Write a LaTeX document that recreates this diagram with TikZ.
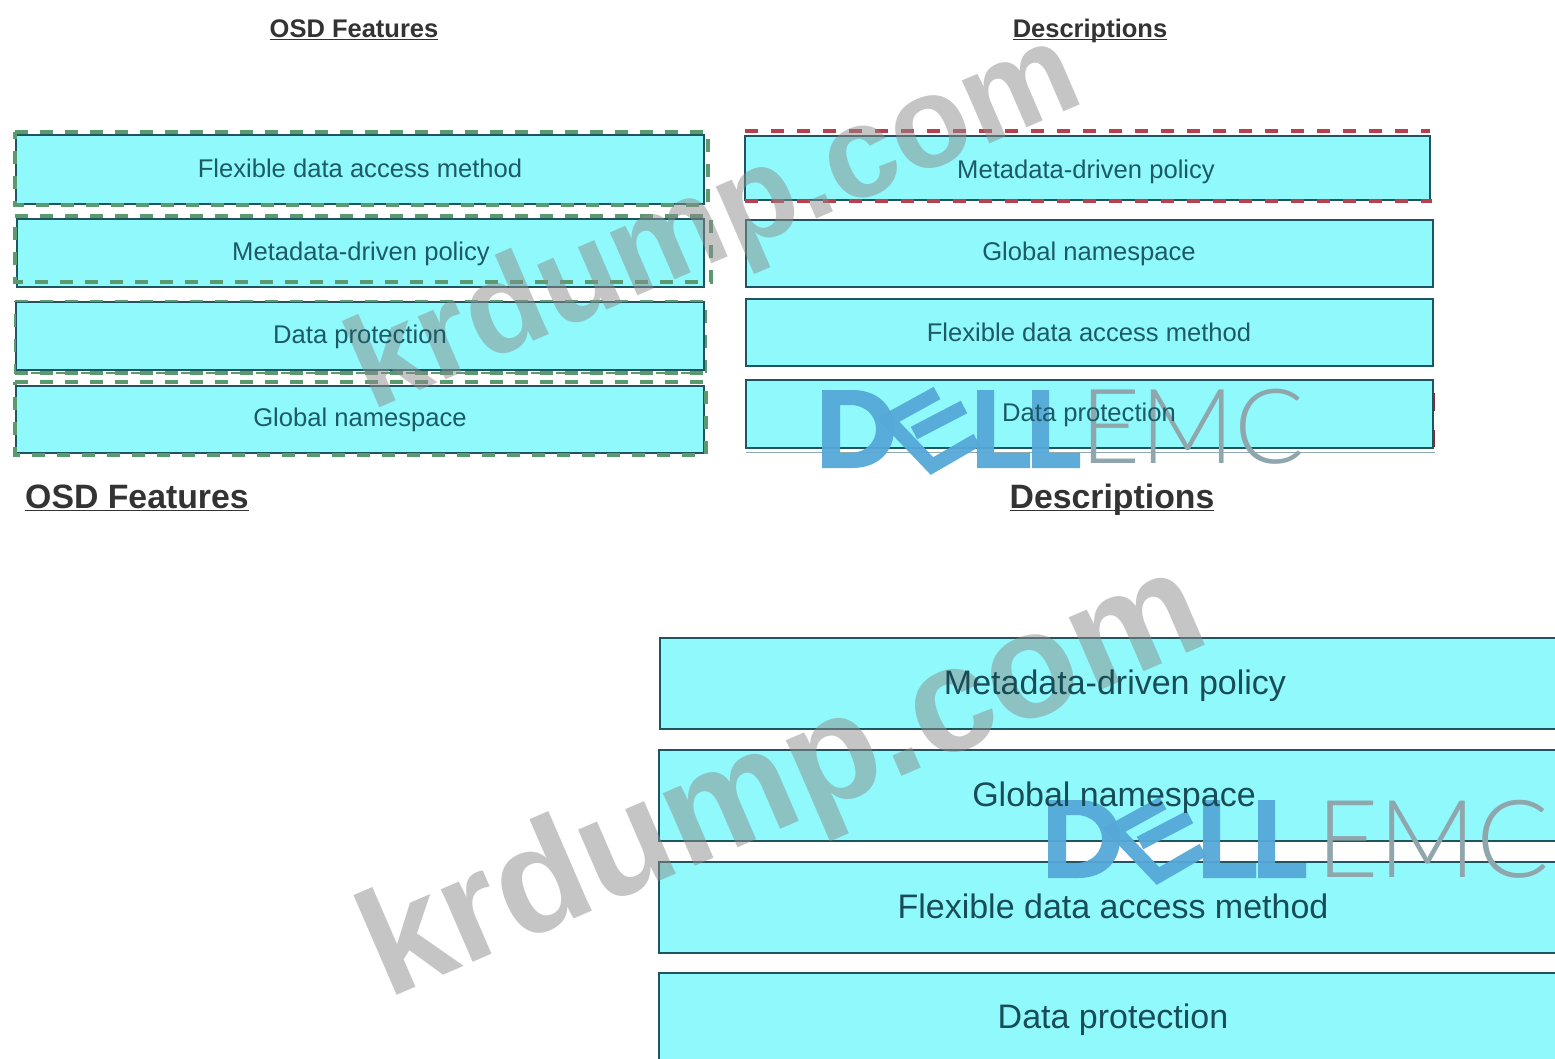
\documentclass[tikz,border=0pt]{standalone}
\usepackage{fontspec}
\setmainfont{Liberation Sans}
\newfontfamily\thinfont{Lato Light}
\usetikzlibrary{calc}
\definecolor{boxfill}{HTML}{8FF9FC}
\definecolor{boxline}{HTML}{1F5560}
\definecolor{txtcol}{HTML}{1C5A66}
\definecolor{dashgreen}{HTML}{5B9A6E}
\definecolor{dashred}{HTML}{B8404E}
\definecolor{logoblue}{HTML}{55A8D8}
\definecolor{logogray}{HTML}{8FA6AC}
\tikzset{
  rowbox/.style={draw=boxline,line width=1.5pt,fill=boxfill},
  rowtext/.style={text=txtcol,font=\fontsize{25.6}{30}\selectfont,anchor=center,inner sep=0pt,text depth=0pt},
  bigtext/.style={text=txtcol!85!black,font=\fontsize{34}{40}\selectfont,anchor=center,inner sep=0pt,text depth=0pt},
  headsmall/.style={text=black!80,font=\bfseries\fontsize{25.5}{30}\selectfont,anchor=center,inner sep=0pt,text depth=0pt,text height=18.6pt},
  headbig/.style={text=black!80,font=\bfseries\fontsize{33.8}{40}\selectfont,anchor=center,inner sep=0pt,text depth=0pt,text height=24.6pt},
  greendash/.style={draw=dashgreen,line width=3.5pt,dash pattern=on 13pt off 12pt},
  reddash/.style={draw=dashred,line width=3.5pt,dash pattern=on 13pt off 13pt},
  markwater/.style={text=black!45,opacity=.5,font=\bfseries,inner sep=0pt,rotate=23.4},
  logostroke/.style={draw=logoblue,line width=14pt,miter limit=10},
  logofill/.style={fill=logoblue,even odd rule},
  pics/delllogo/.style={code={
    \fill[logofill] (0,0)--(30,0)..controls (58,0) and (72,18)..(72,39)..controls (72,60) and (58,78)..(30,78)--(0,78)--cycle
      (18,15)--(28,15)..controls (44,15) and (54,26)..(54,39)..controls (54,52) and (44,63)..(28,63)--(18,63)--cycle;
    \draw[logostroke] (115,3)--(66,30)--(110,76)--(155,50);
    \draw[logostroke] (92,43)--(142,17);
    \fill[logofill] (155,0)--(172,0)--(172,63)--(208,63)--(208,78)--(155,78)--cycle;
    \fill[logofill] (210,0)--(227,0)--(227,63)--(258,63)--(258,78)--(210,78)--cycle;
  }}
}
\begin{document}
\begin{tikzpicture}[x=1pt,y=-1pt]
\useasboundingbox (0,0) rectangle (1555,1058);
\clip (0,0) rectangle (1555,1058);
\fill[white] (0,0) rectangle (1555,1058);

% upper left boxes
\path[rowbox] (16,135) rectangle (704,204);
\path[rowbox] (17,219) rectangle (704,287);
\path[rowbox] (16,302) rectangle (704,370);
\path[rowbox] (16,386) rectangle (704,453);
\draw[greendash] (15,132)--(708,132)--(708,205)--(15,205)--cycle;
\draw[greendash] (15,216)--(711,216)--(711,282)--(15,282)--cycle;
\draw[greendash,line width=1.5pt] (15,301)--(706,301)--(706,373)--(15,373)--cycle;
\draw[greendash] (15,373)--(706,373);
\draw[greendash] (15,382)--(706,382)--(706,455)--(15,455)--cycle;

% upper right boxes
\path[rowbox] (745,136) rectangle (1430,200);
\path[rowbox] (746,220) rectangle (1433,287);
\path[rowbox] (746,299) rectangle (1433,366);
\path[rowbox] (746,380) rectangle (1433,448);
\draw[reddash] (745,131)--(1430,131);
\draw[reddash] (745,201)--(1432,201);
\draw[boxline!50,line width=1pt] (746,452)--(1435,452);
\draw[dashred!70!black,line width=2.5pt] (1434,393)--(1434,411) (1434,430)--(1434,447);

% lower boxes
\path[rowbox] (660,638) rectangle (1575,729);
\path[rowbox] (659,750) rectangle (1575,841);
\path[rowbox] (659,862) rectangle (1575,953);
\path[rowbox] (659,973) rectangle (1575,1075);

% watermarks
\node[markwater,font=\bfseries\fontsize{130}{130}\selectfont] (wmupper) at (716,226) {krdump.com};
\node[markwater,font=\bfseries\fontsize{150}{150}\selectfont] (wmlower) at (785,785) {krdump.com};

% logos
\pic[opacity=.95] at (822,390) {delllogo};
\node[text=logogray,font=\thinfont\fontsize{104}{104}\selectfont,anchor=west,inner sep=0pt] (emcupper) at (1080,427) {EMC};
\pic[opacity=.95] at (1048,800) {delllogo};
\node[text=logogray,font=\thinfont\fontsize{108}{108}\selectfont,anchor=west,inner sep=0pt] (emclower) at (1316,839) {EMC};

% headings
\node[headsmall] (h1) at (354,28) {\underline{\smash{OSD Features}}};
\node[headsmall] (h2) at (1090,28) {\underline{\smash{Descriptions}}};
\node[headbig] (h3) at (137,496) {\underline{\smash{OSD Features}}};
\node[headbig] (h4) at (1112,496) {\underline{\smash{Descriptions}}};

% texts
\node[rowtext] (a1) at (360,168) {Flexible data access method};
\node[rowtext] (a2) at (361,251) {Metadata-driven policy};
\node[rowtext] (a3) at (360,334) {Data protection};
\node[rowtext] (a4) at (360,417) {Global namespace};
\node[rowtext] (b1) at (1086,169) {Metadata-driven policy};
\node[rowtext] (b2) at (1089,251) {Global namespace};
\node[rowtext] (b3) at (1089,332) {Flexible data access method};
\node[rowtext] (b4) at (1089,412) {Data protection};
\node[bigtext] (c1) at (1115,682) {Metadata-driven policy};
\node[bigtext] (c2) at (1114,794) {Global namespace};
\node[bigtext] (c3) at (1113,906) {Flexible data access method};
\node[bigtext] (c4) at (1113,1016) {Data protection};
\end{tikzpicture}
\end{document}
